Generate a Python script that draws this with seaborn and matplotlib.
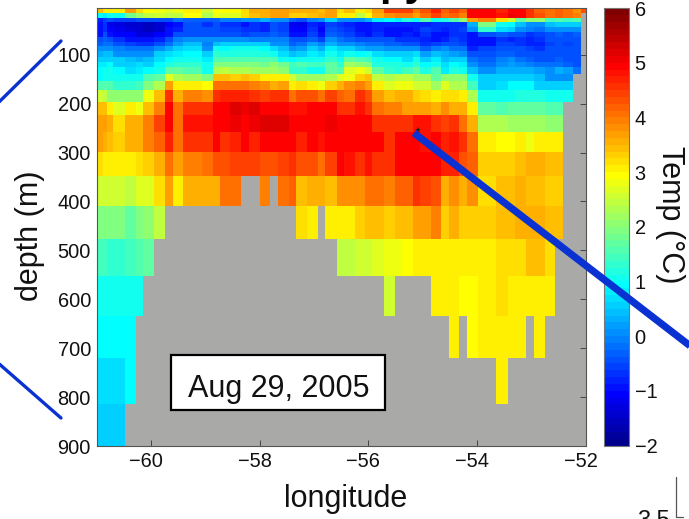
import numpy as np
import pandas as pd
import matplotlib
matplotlib.use("Agg")
import matplotlib.pyplot as plt
import matplotlib.transforms as mtrans
from matplotlib.colors import ListedColormap
from matplotlib.lines import Line2D
from matplotlib.patches import Rectangle
import seaborn as sns

n = np.nan
lon_edges = [-61.00,-60.89,-60.81,-60.70,-60.48,-60.28,-60.15,-59.96,-59.74,-59.61,-59.41,-59.07,-58.87,-58.74,-58.56,-58.35,-58.20,-58.00,-57.81,-57.67,-57.46,-57.33,-57.13,-56.93,-56.80,-56.59,
             -56.46,-56.26,-56.06,-55.93,-55.72,-55.52,-55.39,-55.19,-55.06,-54.85,-54.67,-54.52,-54.33,-54.19,-53.98,-53.65,-53.44,-53.30,-53.11,-52.96,-52.76,-52.57,-52.43,-52.24,-52.09,-52.00]
depth_edges = [4.5,14,24,34,43,54,63,73,83,93,105,115,126,139,154,172,196,223,257,299,349,409,476,552,634,720,814,900]

row_00 = [3.4,3.1,3.0,3.0,3.7,3.2,2.9,2.8,2.7,2.8,3.0,2.6,2.9,2.9,2.9,3.2,3.5,3.5,3.7,3.7,3.6,3.6,3.6,3.4,3.7,3.2,
          3.4,3.1,3.2,3.7,4.4,4.4,4.4,3.9,4.3,4.7,4.2,4.4,4.2,4.9,4.9,4.7,4.9,4.9,4.5,4.2,4.0,4.2,4.0,3.8,4.3]
row_01 = [0.9,0.8,1.0,1.0,1.8,2.2,2.4,2.6,2.4,2.4,2.9,2.3,2.8,2.7,2.7,3.2,3.4,3.5,3.7,3.7,3.3,3.3,3.4,3.5,3.7,3.1,
          3.0,2.4,2.9,3.6,3.8,3.9,3.9,3.7,4.0,4.4,4.1,4.2,3.9,4.9,4.9,4.8,5.0,4.9,4.5,4.3,4.0,4.2,4.0,3.9,n]
row_02 = [-0.8,-0.6,-0.5,-0.6,-0.6,-0.5,-0.5,-0.5,-0.5,-0.2,-0.3,-0.3,-0.3,-0.1,-0.1,0.1,0.1,0.3,0,0,-0.3,-0.4,-0.1,0,0.6,0,
          0.1,0,0.3,0.8,0.9,0.8,1.2,0.9,1.6,1.0,1.2,1.6,2.0,3.7,3.9,3.2,2.6,1.7,2.1,2.1,1.4,1.5,1.4,1.6,n]
row_03 = [-1.0,-0.7,-1.2,-1.3,-1.4,-1.4,-1.6,-1.5,-1.1,-0.9,-0.5,-0.7,-0.5,-0.7,-0.7,-0.9,-0.7,-0.8,-0.5,-0.6,-1.2,-1.2,-0.8,-1.0,-0.6,-0.7,
          -0.8,-0.9,-1.0,-0.8,-0.8,-0.8,-0.8,-0.8,-0.8,-0.7,-0.7,-0.7,-0.7,0.3,1.9,1.0,0.9,0.4,0,0,0.4,0.5,0.5,0.5,n]
row_04 = [-1.0,-0.7,-1.1,-1.2,-1.3,-1.5,-1.6,-1.4,-1.0,-0.8,-0.4,-0.5,-0.5,-0.6,-0.6,-0.7,-0.7,-0.8,-0.5,-0.6,-1.1,-1.1,-0.7,-1.1,-0.5,-0.6,
          -0.7,-1.0,-1.0,-0.8,-0.9,-1.0,-1.0,-0.8,-0.6,-0.7,-0.8,-0.7,-0.6,0,1.3,0.7,0.6,0.1,-0.1,-0.2,0.0,0.1,0.1,0.1,n]
row_05 = [-0.9,-0.4,-1.0,-1.1,-1.1,-1.3,-1.3,-1.1,-0.9,-0.5,-0.4,-0.4,-0.4,-0.5,-0.5,-0.6,-0.5,-0.5,-0.3,-0.4,-0.9,-0.9,-0.6,-1.0,-0.3,-0.5,
          -0.6,-0.8,-0.9,-0.7,-0.9,-1.0,-0.8,-0.9,-0.7,-0.9,-0.9,-0.7,-0.7,-1.0,-0.5,-0.3,-0.5,-0.5,-0.7,-0.6,-0.4,-0.3,-0.4,-0.3,n]
row_06 = [-0.4,-0.3,-0.4,-0.7,-0.9,-0.9,-1.0,-0.8,-0.4,-0.1,0.1,0,0,0,0.1,0.1,-0.1,-0.1,-0.1,-0.1,-0.5,-0.5,-0.3,-0.6,0.1,-0.2,
          -0.3,-0.4,-0.5,-0.4,-0.5,-0.7,-0.7,-0.7,-0.8,-0.9,-0.8,-0.6,-0.7,-1.0,-0.9,-0.7,-0.8,-0.7,-0.8,-0.7,-0.5,-0.5,-0.5,-0.5,n]
row_07 = [-0.3,-0.2,-0.2,-0.4,-0.6,-0.7,-0.7,-0.4,-0.2,0.2,0.4,-0.1,0.4,0.5,0.5,0.6,0.6,0.5,0.1,0.1,-0.3,-0.2,0.2,-0.1,0.3,0.1,
          0,-0.1,-0.2,-0.2,-0.3,-0.3,-0.4,-0.5,-0.7,-0.6,-0.5,-0.5,-0.6,-1.0,-0.9,-0.6,-0.6,-0.7,-0.8,-0.8,-0.6,-0.5,-0.6,-0.4,n]
row_08 = [0,0.1,0.1,-0.1,-0.2,-0.2,-0.2,0.1,0.3,0.5,0.7,0.1,1.0,0.9,1.0,1.0,1.0,0.9,0.7,0.4,0.1,0.2,0.6,0.3,0.8,0.5,
          0.5,0.3,0.2,0.2,0.1,0.1,0,0,-0.3,-0.1,0.1,-0.2,-0.2,-0.8,-0.6,-0.4,-0.4,-0.5,-0.6,-0.7,-0.5,-0.5,-0.5,-0.4,n]
row_09 = [0.3,0.4,0.4,0.1,0,0.1,0.1,0.5,0.7,0.8,0.9,0.5,1.3,1.2,1.2,1.2,1.2,1.2,1.0,0.7,0.4,0.6,0.8,0.7,1.0,0.8,
          1.1,0.9,1.0,0.7,0.6,0.6,0.5,0.7,0.2,0.4,0.3,0.2,0.1,-0.5,-0.5,-0.3,-0.3,-0.4,-0.5,-0.5,-0.5,-0.4,-0.5,-0.4,n]
row_10 = [0.6,0.6,0.6,0.5,0.4,0.3,0.4,0.7,0.9,1.0,1.1,0.8,1.5,1.6,1.5,1.5,1.5,1.5,1.5,1.1,0.9,1.0,1.1,1.1,1.3,1.0,
          1.7,1.6,1.4,1.0,0.9,0.9,0.7,1.1,0.6,0.8,0.4,0.5,0.6,-0.2,-0.3,-0.1,0,-0.2,-0.3,-0.4,-0.4,-0.3,-0.5,-0.5,n]
row_11 = [0.8,0.8,0.9,0.6,0.6,0.7,0.6,0.9,1.2,1.3,1.3,1.0,1.9,1.9,1.9,1.9,1.9,1.8,2.0,1.8,1.4,1.6,1.4,1.4,1.7,1.3,
          2.2,2.0,1.9,1.2,1.2,1.2,1.0,1.3,0.9,1.0,0.7,0.9,0.8,0.1,-0.2,0.1,0.2,0,-0.1,-0.2,-0.2,-0.2,-0.3,-0.4,n]
row_12 = [0.9,1.0,1.1,0.9,0.7,0.8,0.9,1.0,1.7,1.7,1.6,1.1,2.3,2.4,2.3,2.3,2.2,2.2,2.2,2.0,1.3,1.3,1.1,1.1,1.7,1.6,
          2.7,2.8,2.6,1.7,1.3,1.2,1.4,1.7,1.2,1.5,0.8,1.2,1.1,0.4,0.0,0.3,0.3,0.3,0.3,0.2,0.1,0.3,0.2,-0.2,n]
row_13 = [0.9,1.0,1.0,1.0,1.0,1.1,1.6,1.7,2.7,2.3,2.2,1.9,3.4,3.4,3.3,3.4,3.3,3.0,3.0,3.0,2.5,2.2,2.2,2.2,2.3,2.7,
          2.8,3.3,3.4,2.4,2.3,2.4,2.4,2.2,2.2,1.7,2.1,2.0,2.1,1.1,.5,.6,.6,.6,.6,.4,.1,.1,.1,n,n]
row_14 = [1.6,1.6,1.5,1.3,1.3,1.4,1.9,2.3,3.7,3.1,3.1,2.9,4.1,4.1,4.0,4.1,3.9,3.8,3.6,3.7,3.1,3.2,3.0,2.8,3.3,3.6,
          3.8,3.9,3.7,3.0,2.7,2.8,2.8,2.5,2.5,2.2,2.7,2.3,2.3,1.4,.6,.7,.9,.9,.9,.6,.6,.6,.5,n,n]
row_15 = [2.6,2.4,2.1,2.0,2.0,2.1,2.8,3.4,4.6,3.6,3.9,3.8,4.6,4.7,4.7,4.7,4.6,4.4,4.6,4.5,4.1,4.3,4.3,4.1,4.4,4.2,
          4.1,4.6,4.3,3.7,3.4,3.5,3.5,3.3,3.2,3.0,3.2,3.2,3.1,2.3,1.0,1.1,1.1,1.2,1.2,1.2,1.1,1.0,1.0,n,n]
row_16 = [3.4,3.4,3.0,2.7,3.0,2.8,3.4,3.9,4.9,4.0,4.6,4.5,4.95,4.95,5.15,5.0,5.15,4.95,4.95,4.9,4.8,4.8,4.9,4.9,4.9,4.5,
          4.5,4.8,4.5,4.1,3.9,3.9,3.7,3.7,3.7,3.5,3.8,3.6,3.6,3.0,1.7,1.6,1.7,1.7,1.7,1.7,1.6,1.6,n,n,n]
row_17 = [3.7,3.7,3.5,3.2,3.6,3.6,3.9,4.4,4.9,4.1,4.8,4.8,4.95,4.95,5.0,4.95,5.05,5.2,5.2,5.2,4.95,4.95,4.9,4.9,5.05,4.9,
          4.9,4.9,4.9,4.5,4.5,4.5,4.6,4.8,4.8,4.5,4.4,4.5,4.1,3.5,2.3,2.3,2.2,2.2,2.2,2.2,2.1,2.0,n,n,n]
row_18 = [3.7,3.6,3.4,3.3,3.6,3.5,3.9,4.2,4.7,4.0,4.6,4.6,4.9,4.6,4.7,4.9,4.7,4.9,4.9,4.9,4.9,4.7,4.9,4.8,4.9,4.9,
          4.9,4.9,4.9,4.9,4.6,4.9,4.9,4.9,4.8,4.9,4.7,4.8,4.5,4.0,3.0,2.9,2.9,3.0,2.8,3.0,3.0,3.0,n,n,n]
row_19 = [3.2,3.1,3.0,3.0,3.0,3.2,3.3,3.6,4.0,3.7,3.9,4.0,4.3,4.3,4.4,4.4,4.4,4.3,4.3,4.4,4.5,4.3,4.3,4.1,4.4,4.9,
          4.8,4.6,4.8,4.6,4.5,4.9,4.9,4.9,4.9,4.9,4.7,4.7,4.3,4.2,3.3,3.3,3.3,3.4,3.5,3.5,3.4,3.4,n,n,n]
row_20 = [2.6,2.6,2.6,2.6,2.4,2.7,2.7,3.2,3.7,3.1,3.6,3.6,3.6,4.0,4.1,n,n,3.9,n,4.0,4.2,3.4,3.5,3.5,3.4,3.8,
          3.8,3.8,4.1,4.0,3.9,4.2,4.2,4.5,4.4,4.3,3.6,3.8,3.5,3.8,3.2,3.4,3.4,3.5,3.4,3.4,3.3,3.3,n,n,n]
row_21 = [1.9,1.9,1.9,1.9,1.7,1.9,2.1,2.4] + [n]*13 + [3.2,3.0,n,3.0,3.0,
          3.0,3.3,3.4,3.4,3.3,3.4,3.4,3.7,3.7,3.9,3.3,3.5,3.3,3.3,3.3,3.4,3.4,3.5,3.5,3.5,3.4,3.4,n,n,n]
row_22 = [1.4,1.4,1.3,1.3,1.4,1.5,1.7] + [n]*18 + [2.4,
          2.4,2.6,2.6,2.7,2.8,2.8,2.9,3.0,3.0,3.0,3.0,3.0,3.0,3.0,3.0,3.2,3.2,3.2,3.4,3.4,3.2,n,n,n,n]
row_23 = [1.0,1.0,1.0,1.0,1.0,1.0] + [n]*20 + [n,n,n,n,2.5,n,n,n,n,3.0,3.0,3.0,2.9,2.9,3.0,3.2,3.0,3.0,3.0,3.0,3.0,n,n,n,n]
row_24 = [0.9,0.9,0.9,0.9,0.9] + [n]*21 + [n]*11 + [3.1,n,2.9,3.0,3.0,3.0,3.0,n,3.1] + [n]*5
row_25 = [0.7,0.7,0.7,0.7,0.9] + [n]*21 + [n]*15 + [3.0] + [n]*9
row_26 = [0.5,0.5,0.5,0.5] + [n]*22 + [n]*25

temp_rows = np.array([row_00,row_01,row_02,row_03,row_04,row_05,row_06,row_07,row_08,row_09,
                      row_10,row_11,row_12,row_13,row_14,row_15,row_16,row_17,row_18,row_19,
                      row_20,row_21,row_22,row_23,row_24,row_25,row_26], dtype=float)

depth_ticks = [100,200,300,400,500,600,700,800,900]
lon_ticks = [-60,-58,-56,-54,-52]
cbar_ticks = [-2,-1,0,1,2,3,4,5,6]
GREY = "#a9aaa8"
BLUE = "#0a32d2"
FONT_TICK = 14.4
FONT_TITLE = 22

def matlab_jet(m=64):
    k = int(np.ceil(m/4))
    u = np.r_[np.arange(1, k+1)/k, np.ones(k-1), np.arange(k, 0, -1)/k]
    g = int(np.ceil(k/2)) - (1 if m % 4 == 1 else 0) + np.arange(1, len(u)+1)
    r, b = g + k, g - k
    rgb = np.zeros((m, 3))
    for c, idx in enumerate((r, g, b)):
        keep = idx <= m
        idx = idx[keep]; vals = u[keep]
        ok = idx >= 1
        rgb[idx[ok]-1, c] = vals[ok]
    return ListedColormap(rgb)

sns.set_theme(style="white")
plt.rcParams["font.family"] = ["Liberation Sans"]

W, H = 689, 519
fig = plt.figure(figsize=(W/100, H/100), dpi=100, facecolor="white")
px = mtrans.Affine2D().scale(1/W, -1/H).translate(0, 1) + fig.transFigure

def box(l, t, r, b):
    return [l/W, 1-b/H, (r-l)/W, (b-t)/H]

ax = fig.add_axes(box(96.5, 8, 585.5, 446))
cax = fig.add_axes(box(604, 8, 629, 445.5))

# resample the irregular section on a fine regular grid so the heatmap keeps true cell widths
nx, ny = 489, 438
lon_c = -61 + (np.arange(nx)+.5)*9/nx
dep_c = depth_edges[0] + (np.arange(ny)+.5)*(depth_edges[-1]-depth_edges[0])/ny
ix = np.clip(np.searchsorted(lon_edges, lon_c)-1, 0, temp_rows.shape[1]-1)
iy = np.clip(np.searchsorted(depth_edges, dep_c)-1, 0, temp_rows.shape[0]-1)
frame = pd.DataFrame(temp_rows[iy][:, ix], index=dep_c, columns=lon_c)

sns.heatmap(frame, ax=ax, cbar_ax=cax, cmap=matlab_jet(64), vmin=-2, vmax=6,
            xticklabels=False, yticklabels=False, rasterized=True)
ax.set_facecolor(GREY)

to_x = lambda v: (np.asarray(v, float)+61)*nx/9
to_y = lambda v: (np.asarray(v, float)-depth_edges[0])*ny/(depth_edges[-1]-depth_edges[0])
ax.set_xticks(to_x(lon_ticks))
ax.set_xticklabels([f"\u2212{abs(v)}" for v in lon_ticks], fontsize=FONT_TICK, rotation=0, color="#111111")
ax.set_yticks(to_y(depth_ticks))
ax.set_yticklabels([str(v) for v in depth_ticks], fontsize=FONT_TICK, rotation=0, color="#111111")
ax.tick_params(axis="both", direction="in", length=4, width=0.7, color="#444444", pad=4,
               top=True, right=True, bottom=True, left=True)
offset = mtrans.ScaledTranslation(-5/100, 0, fig.dpi_scale_trans)
for lab in ax.get_xticklabels():
    lab.set_transform(lab.get_transform() + offset)
for s in ax.spines.values():
    s.set_visible(True); s.set_color("#555555"); s.set_linewidth(0.8)

cb = ax.collections[0].colorbar
cb.set_ticks(cbar_ticks)
cb.set_ticklabels([str(v).replace("-", "\u2212") for v in cbar_ticks])
cax.tick_params(axis="y", direction="in", length=4, width=0.7, color="#333333", labelsize=FONT_TICK,
                left=True, right=True, pad=4, labelcolor="#111111")
cb.outline.set_edgecolor("#777777"); cb.outline.set_linewidth(0.8)

# axis titles
fig.text(346/W, 1-507/H, "longitude", fontsize=FONT_TITLE, ha="center", va="baseline", color="#111111")
fig.text(38/W, 1-236/H, "depth (m)", fontsize=FONT_TITLE, rotation=90, rotation_mode="anchor",
         ha="center", va="baseline", color="#111111")
fig.text(662/W, 1-215/H, "Temp (\u00b0C)", fontsize=FONT_TITLE, rotation=-90, rotation_mode="anchor",
         ha="center", va="baseline", color="#111111")

# date box
fig.add_artist(Rectangle((171, 355), 214, 55, transform=px, facecolor="white", edgecolor="black", linewidth=1.6, zorder=3))
fig.text(278.5/W, 1-396.5/H, "Aug 29, 2005", fontsize=FONT_TITLE, ha="center", va="baseline", color="#111111", zorder=4)

# callout lines
fig.add_artist(Line2D([61, -3], [41, 104], transform=px, color=BLUE, lw=2.4, zorder=3))
fig.add_artist(Line2D([-3, 61], [362, 418], transform=px, color=BLUE, lw=2.4, zorder=3))
fig.add_artist(Line2D([418], [130], transform=px, color="#222222", marker="*", ms=5, mew=0, zorder=3))
fig.add_artist(Line2D([414, 700], [133, 353.5], transform=px, color=BLUE, lw=5.2, solid_capstyle="butt", zorder=3))

# cropped fragments of neighbouring panels
fig.text(404/W, 1+5/H, "py", fontsize=30, weight="bold", ha="center", va="baseline", color="black")
fig.text(670/W, 1-527/H, "3.5", fontsize=17, ha="right", va="baseline", color="#111111")
fig.add_artist(Line2D([676, 676, 683], [477, 517, 517], transform=px, color="#555555", lw=0.9))

fig.savefig("out.png", dpi=100)
